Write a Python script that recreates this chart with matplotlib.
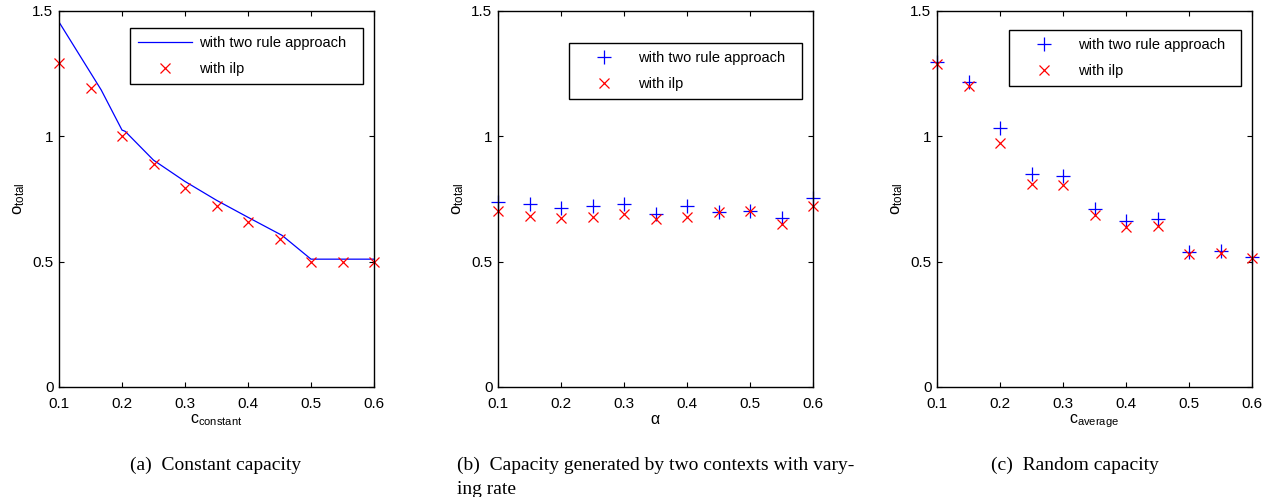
import matplotlib
matplotlib.use("Agg")
import matplotlib.pyplot as plt

plt.rcParams['font.family'] = ['Liberation Sans', 'DejaVu Sans']
plt.rcParams['mathtext.fontset'] = 'custom'
plt.rcParams['mathtext.rm'] = 'Liberation Sans'
plt.rcParams['mathtext.it'] = 'Liberation Sans:italic'

# ---- data ----
x_vals = [0.1, 0.15, 0.2, 0.25, 0.3, 0.35, 0.4, 0.45, 0.5, 0.55, 0.6]

# (a) constant capacity
a_line_x = [0.1, 0.167, 0.2, 0.205, 0.25, 0.3, 0.35, 0.4, 0.454, 0.5, 0.55, 0.6]
a_line_y = [1.456, 1.185, 1.025, 1.02, 0.905, 0.82, 0.745, 0.677, 0.605, 0.51, 0.51, 0.51]
a_ilp = [1.294, 1.194, 1.0, 0.891, 0.795, 0.722, 0.658, 0.59, 0.5, 0.5, 0.5]

# (b) two contexts with varying rate
b_two = [0.737, 0.73, 0.713, 0.723, 0.73, 0.692, 0.722, 0.697, 0.703, 0.674, 0.754]
b_ilp = [0.701, 0.682, 0.675, 0.679, 0.691, 0.669, 0.678, 0.697, 0.702, 0.65, 0.721]

# (c) random capacity
c_two = [1.295, 1.215, 1.032, 0.848, 0.84, 0.709, 0.662, 0.671, 0.54, 0.544, 0.52]
c_ilp = [1.288, 1.2, 0.973, 0.811, 0.806, 0.686, 0.637, 0.642, 0.531, 0.535, 0.513]

xticks = [0.1, 0.2, 0.3, 0.4, 0.5, 0.6]
xtick_labels = ['0.1', '0.2', '0.3', '0.4', '0.5', '0.6']
yticks = [0, 0.5, 1, 1.5]
ytick_labels = ['0', '0.5', '1', '1.5']

xlabels = [r'$\mathregular{c_{constant}}$', r'$\mathregular{\alpha}$', r'$\mathregular{c_{average}}$']
captions = ['(a)  Constant capacity',
            '(b)  Capacity generated by two contexts with vary-\ning rate',
            '(c)  Random capacity']
legend_labels = ['with two rule approach', 'with ilp']

# ---- figure ----
W, H = 1268, 497
fig = plt.figure(figsize=(W / 100, H / 100), dpi=100)

lefts = [59, 498, 937]
ax_w = 315
ax_top, ax_bot = 11, 387
legend_boxes = [(130, 28, 363, 89), (569, 43, 802, 103), (1009, 30, 1241, 90)]

FS = 10.5
TFS = 11
axes = []
for i, L in enumerate(lefts):
    ax = fig.add_axes([L / W, (H - ax_bot) / H, ax_w / W, (ax_bot - ax_top) / H])
    axes.append(ax)
    ax.set_xlim(0.1, 0.6)
    ax.set_ylim(0, 1.5)
    ax.set_xticks(xticks)
    ax.set_xticklabels(xtick_labels, fontsize=TFS)
    ax.set_yticks(yticks)
    ax.set_yticklabels(ytick_labels, fontsize=TFS)
    ax.tick_params(direction='in', top=True, right=True, length=3.5, width=0.8)
    ax.tick_params(axis='x', pad=7)
    ax.tick_params(axis='y', pad=4)
    for s in ax.spines.values():
        s.set_linewidth(1.0)
    ax.set_xlabel(xlabels[i], fontsize=11.5, labelpad=1)
    ax.set_ylabel(r'$\mathregular{o_{total}}$', fontsize=12, labelpad=4)

# panel a
ax = axes[0]
h1, = ax.plot(a_line_x, a_line_y, color='blue', lw=0.9)
h2, = ax.plot(x_vals, a_ilp, ls='none', marker='x', color='red', ms=7, mew=0.9, clip_on=False)

# panel b
ax = axes[1]
hb1, = ax.plot(x_vals, b_two, ls='none', marker='+', color='blue', ms=10, mew=0.9, clip_on=False)
hb2, = ax.plot(x_vals, b_ilp, ls='none', marker='x', color='red', ms=7, mew=0.9, clip_on=False)

# panel c
ax = axes[2]
hc1, = ax.plot(x_vals, c_two, ls='none', marker='+', color='blue', ms=10, mew=0.9, clip_on=False)
hc2, = ax.plot(x_vals, c_ilp, ls='none', marker='x', color='red', ms=7, mew=0.9, clip_on=False)

handles = [(h1, h2), (hb1, hb2), (hc1, hc2)]
for ax, L, (bx0, by0, bx1, by1), hs in zip(axes, lefts, legend_boxes, handles):
    x0 = (bx0 - L) / ax_w
    w = (bx1 - bx0) / ax_w
    ytop = (ax_bot - by0) / (ax_bot - ax_top)
    leg = ax.legend(list(hs), legend_labels, loc='upper left',
                    bbox_to_anchor=(x0, ytop - 0.2, w, 0.2), mode='expand',
                    borderaxespad=0, fontsize=FS, fancybox=False, edgecolor='black',
                    framealpha=1, handlelength=3.7, handletextpad=0.45,
                    labelspacing=0.8, borderpad=0.55, numpoints=1)
    leg.get_frame().set_linewidth(1.0)

# captions
cap_font = ['Liberation Serif', 'DejaVu Serif']
CFS = 14
base_y = 1 - 470 / H
line2_y = 1 - 494 / H
fig.text(216 / W, base_y, captions[0], ha='center', va='baseline', fontsize=CFS, family=cap_font)
b_lines = captions[1].split('\n')
fig.text(457 / W, base_y, b_lines[0], ha='left', va='baseline', fontsize=CFS, family=cap_font)
fig.text(457 / W, line2_y, b_lines[1], ha='left', va='baseline', fontsize=CFS, family=cap_font)
fig.text(1075 / W, base_y, captions[2], ha='center', va='baseline', fontsize=CFS, family=cap_font)

fig.savefig('out.png', dpi=100)
